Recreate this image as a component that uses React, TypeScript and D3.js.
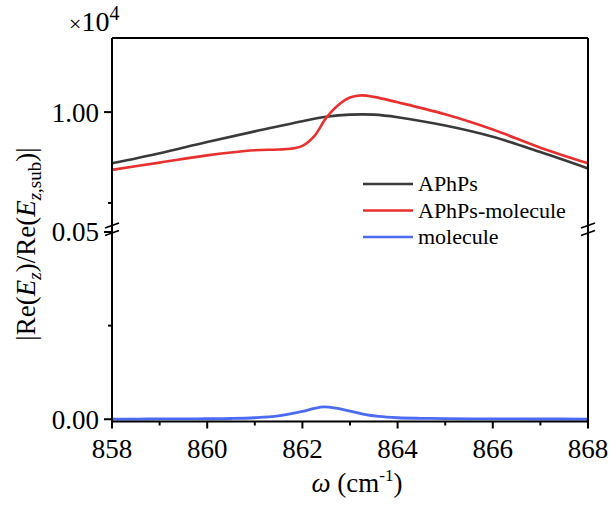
import React from "react";
import * as d3 from "d3";

// ---- data ----
const xAPhPs = [858, 859, 860, 861, 862, 862.5, 863, 863.5, 864, 865, 866, 867, 868];
const yAPhPs = [9859, 9887, 9918, 9947, 9975, 9987, 9993, 9993, 9986, 9963, 9932, 9890, 9845];

const xAPhPsMol = [858, 859, 860, 860.5, 861, 861.5, 861.75, 862, 862.25, 862.5, 862.75, 863, 863.25, 863.5, 864, 865, 866, 867, 868];
const yAPhPsMol = [9841, 9861, 9881, 9889, 9895, 9897, 9899, 9907, 9934, 9984, 10019, 10040, 10046, 10042, 10027, 9994, 9952, 9902, 9859];

const xMol = [858, 858.5, 859, 859.5, 860, 860.5, 861, 861.5, 862, 862.25, 862.45, 862.7, 863, 863.3, 863.6, 864, 864.5, 865, 866, 867, 868];
const yMol = [0.00005, 0.00006, 0.00008, 0.0001, 0.00013, 0.0002, 0.0004, 0.0009, 0.0021, 0.0029, 0.0033, 0.003, 0.0022, 0.0013, 0.00075, 0.0004, 0.00025, 0.00017, 0.0001, 0.00007, 0.00005];

const xTicksMajor = [858, 860, 862, 864, 866, 868];
const xTicksMinor = [859, 861, 863, 865, 867];
const yTopMajor = [10000];
const yTopMinor = [9750];
const yBotMajor = [0, 0.05];
const yBotMinor = [0.025];

const legendNames = ["APhPs", "APhPs-molecule", "molecule"];
const colors = ["#3a3a3a", "#e8312f", "#4d6af2"];

const FONT = "'Liberation Serif', 'Times New Roman', serif";

export default function App() {
  const W = 611, H = 506;
  const left = 112, right = 588, top = 38, bottom = 421.5, brk = 232;

  const x = d3.scaleLinear().domain([858, 868]).range([left, right]);
  const yTop = d3.scaleLinear().domain([9670, 10204]).range([brk, top]);
  const yBot = d3.scaleLinear().domain([-0.0006, 0.05]).range([bottom, brk]);

  const lineTop = d3.line<[number, number]>().x(d => x(d[0])).y(d => yTop(d[1])).curve(d3.curveCatmullRom.alpha(0.5));
  const lineBot = d3.line<[number, number]>().x(d => x(d[0])).y(d => yBot(d[1])).curve(d3.curveCatmullRom.alpha(0.5));

  const zip = (a: number[], b: number[]) => a.map((v, i) => [v, b[i]] as [number, number]);

  const breakMarks = (cx: number) =>
    [225.5, 233].map((cy, i) => (
      <line key={cx + "-" + i} x1={cx - 7} y1={cy + 2.5} x2={cx + 7} y2={cy - 2.5} stroke="#000" strokeWidth={1.8} />
    ));

  const legY = [184, 210.5, 237];

  return (
    <svg width={W} height={H} style={{ position: "absolute", left: 0, top: 0, background: "#fff" }} fontFamily={FONT}>
      <rect x={0} y={0} width={W} height={H} fill="#fff" />
      {/* curves */}
      <path d={lineTop(zip(xAPhPs, yAPhPs)) || ""} fill="none" stroke={colors[0]} strokeWidth={2.6} />
      <path d={lineTop(zip(xAPhPsMol, yAPhPsMol)) || ""} fill="none" stroke={colors[1]} strokeWidth={2.6} />
      <path d={lineBot(zip(xMol, yMol)) || ""} fill="none" stroke={colors[2]} strokeWidth={2.8} />

      {/* frame */}
      <line x1={left} y1={top} x2={left} y2={bottom + 1} stroke="#000" strokeWidth={2} />
      <line x1={right} y1={top} x2={right} y2={bottom + 1} stroke="#000" strokeWidth={2} />
      <line x1={left} y1={top} x2={right} y2={top} stroke="#000" strokeWidth={2} />
      <line x1={left - 1} y1={bottom} x2={right + 1} y2={bottom} stroke="#000" strokeWidth={2.2} />

      {/* break marks */}
      {breakMarks(left)}
      {breakMarks(right)}

      {/* x ticks */}
      {xTicksMajor.map(t => (
        <g key={"xm" + t}>
          <line x1={x(t)} x2={x(t)} y1={bottom} y2={bottom + 7} stroke="#000" strokeWidth={2} />
          <text x={x(t)} y={458} textAnchor="middle" fontSize={27}>{t}</text>
        </g>
      ))}
      {xTicksMinor.map(t => (
        <line key={"xn" + t} x1={x(t)} x2={x(t)} y1={bottom} y2={bottom + 4} stroke="#000" strokeWidth={2} />
      ))}

      {/* y ticks top */}
      {yTopMajor.map(t => (
        <g key={"ytm" + t}>
          <line x1={left - 8} x2={left} y1={yTop(t)} y2={yTop(t)} stroke="#000" strokeWidth={2} />
          <text x={99} y={yTop(t)} dy="0.35em" textAnchor="end" fontSize={27}>{(t / 1e4).toFixed(2)}</text>
        </g>
      ))}
      {yTopMinor.map(t => (
        <line key={"ytn" + t} x1={left - 4} x2={left} y1={yTop(t)} y2={yTop(t)} stroke="#000" strokeWidth={2} />
      ))}
      {/* y ticks bottom */}
      {yBotMajor.map(t => (
        <g key={"ybm" + t}>
          <line x1={left - 8} x2={left} y1={yBot(t)} y2={yBot(t)} stroke="#000" strokeWidth={2} />
          <text x={99} y={yBot(t)} dy="0.35em" textAnchor="end" fontSize={27}>{t.toFixed(2)}</text>
        </g>
      ))}
      {yBotMinor.map(t => (
        <line key={"ybn" + t} x1={left - 4} x2={left} y1={yBot(t)} y2={yBot(t)} stroke="#000" strokeWidth={2} />
      ))}

      {/* multiplier */}
      <text x={69} y={31} fontSize={28}>
        <tspan fontSize={22}>×</tspan>10<tspan dy={-11} fontSize={20}>4</tspan>
      </text>

      {/* legend */}
      {legendNames.map((n, i) => (
        <g key={n}>
          <line x1={363} x2={413} y1={legY[i]} y2={legY[i]} stroke={colors[i]} strokeWidth={2.6} />
          <text x={418} y={legY[i]} dy="0.33em" fontSize={22}>{n}</text>
        </g>
      ))}

      {/* x title */}
      <text x={357} y={492} textAnchor="middle" fontSize={27}>
        <tspan fontStyle="italic">ω</tspan> (cm<tspan dy={-11} fontSize={17}>-1</tspan><tspan dy={11}>)</tspan>
      </text>

      {/* y title */}
      <text transform="translate(35,244) rotate(-90)" textAnchor="middle" fontSize={27}>
        |Re(<tspan fontStyle="italic">E</tspan><tspan fontStyle="italic" fontSize={19} dy={6}>z</tspan><tspan dy={-6}>)/Re(</tspan><tspan fontStyle="italic">E</tspan><tspan fontStyle="italic" fontSize={19} dy={6}>z</tspan><tspan fontSize={19}>,sub</tspan><tspan dy={-6}>)|</tspan>
      </text>
    </svg>
  );
}
